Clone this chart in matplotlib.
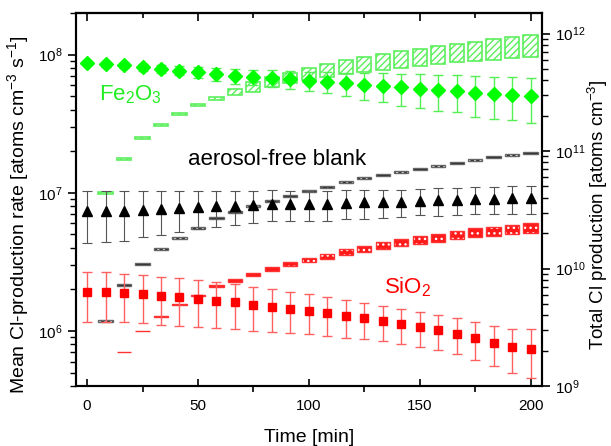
import matplotlib
matplotlib.use("Agg")
import matplotlib.pyplot as plt
from matplotlib.patches import Rectangle
from matplotlib.ticker import LogLocator, NullFormatter, MultipleLocator

plt.rcParams['font.family'] = ['Liberation Sans', 'DejaVu Sans']
plt.rcParams['mathtext.fontset'] = 'custom'
plt.rcParams['mathtext.rm'] = 'Liberation Sans'
plt.rcParams['mathtext.default'] = 'regular'

# time of each measurement [min]
t = [0, 8.33, 16.67, 25, 33.33, 41.67, 50, 58.33, 66.67, 75, 83.33, 91.67, 100,
     108.33, 116.67, 125, 133.33, 141.67, 150, 158.33, 166.67, 175, 183.33, 191.67, 200]
t_tot = t[1:]

# mean Cl production rate [atoms cm-3 s-1] with error
fe_rate = [8.70e7, 8.51e7, 8.34e7, 8.10e7, 7.87e7, 7.67e7, 7.49e7, 7.21e7, 6.98e7, 6.89e7,
           6.78e7, 6.63e7, 6.49e7, 6.35e7, 6.21e7, 6.01e7, 5.91e7, 5.78e7, 5.68e7, 5.53e7,
           5.47e7, 5.26e7, 5.18e7, 5.12e7, 5.01e7]
fe_err = [0.30e7, 0.35e7, 0.40e7, 0.45e7, 0.50e7, 0.60e7, 0.70e7, 0.80e7, 0.85e7, 0.90e7,
          0.95e7, 1.00e7, 1.05e7, 1.10e7, 1.20e7, 1.30e7, 1.40e7, 1.50e7, 1.55e7, 1.60e7,
          1.65e7, 1.70e7, 1.75e7, 1.78e7, 1.80e7]

bk_rate = [7.33e6, 7.33e6, 7.40e6, 7.54e6, 7.63e6, 7.76e6, 7.83e6, 7.96e6, 8.06e6, 8.20e6,
           8.33e6, 8.30e6, 8.25e6, 8.33e6, 8.43e6, 8.51e6, 8.51e6, 8.61e6, 8.76e6, 8.80e6,
           8.90e6, 9.01e6, 9.01e6, 9.10e6, 9.16e6]
bk_err = [3.00e6, 2.95e6, 2.90e6, 2.75e6, 2.65e6, 2.55e6, 2.40e6, 2.35e6, 2.25e6, 2.15e6,
          2.10e6, 2.05e6, 2.00e6, 2.05e6, 2.00e6, 2.00e6, 1.95e6, 1.95e6, 1.90e6, 1.95e6,
          1.95e6, 2.00e6, 2.00e6, 2.05e6, 2.10e6]

si_rate = [1.911e6, 1.911e6, 1.879e6, 1.839e6, 1.788e6, 1.750e6, 1.692e6, 1.645e6, 1.610e6,
           1.539e6, 1.489e6, 1.441e6, 1.394e6, 1.342e6, 1.283e6, 1.235e6, 1.181e6, 1.123e6,
           1.069e6, 1.017e6, 9.58e5, 8.90e5, 8.19e5, 7.67e5, 7.47e5]
si_err = [0.75e6, 0.74e6, 0.72e6, 0.70e6, 0.68e6, 0.66e6, 0.63e6, 0.60e6, 0.57e6, 0.54e6,
          0.51e6, 0.48e6, 0.445e6, 0.42e6, 0.40e6, 0.365e6, 0.34e6, 0.32e6, 0.30e6, 0.29e6,
          0.28e6, 0.27e6, 0.265e6, 0.27e6, 0.29e6]

# total Cl production [atoms cm-3], lower / upper bound
fe_lo = [4.32e10, 8.45e10, 1.26e11, 1.64e11, 2.04e11, 2.40e11, 2.72e11, 3.00e11, 3.21e11,
         3.50e11, 3.79e11, 4.04e11, 4.26e11, 4.52e11, 4.70e11, 4.92e11, 5.14e11, 5.35e11,
         5.53e11, 5.71e11, 5.83e11, 5.98e11, 6.22e11, 6.38e11]
fe_hi = [4.49e10, 8.79e10, 1.31e11, 1.71e11, 2.12e11, 2.53e11, 2.90e11, 3.37e11, 3.86e11,
         4.26e11, 4.66e11, 5.08e11, 5.50e11, 5.94e11, 6.30e11, 6.72e11, 7.09e11, 7.46e11,
         7.86e11, 8.18e11, 8.55e11, 8.96e11, 9.32e11, 9.69e11]

bk_lo = [3.52e9, 7.09e9, 1.072e10, 1.438e10, 1.80e10, 2.18e10, 2.63e10, 2.95e10, 3.32e10,
         3.71e10, 4.10e10, 4.50e10, 4.88e10, 5.31e10, 5.74e10, 6.14e10, 6.51e10, 6.95e10,
         7.37e10, 7.76e10, 8.23e10, 8.66e10, 9.08e10, 9.50e10]
bk_hi = [3.66e9, 7.37e9, 1.116e10, 1.496e10, 1.87e10, 2.27e10, 2.73e10, 3.07e10, 3.46e10,
         3.87e10, 4.26e10, 4.68e10, 5.08e10, 5.53e10, 5.98e10, 6.40e10, 6.77e10, 7.23e10,
         7.67e10, 8.08e10, 8.57e10, 9.02e10, 9.46e10, 9.88e10]

si_lo = [8.9e8, 1.93e9, 2.92e9, 3.88e9, 4.87e9, 5.82e9, 6.94e9, 7.68e9, 8.64e9, 9.54e9,
         1.048e10, 1.131e10, 1.212e10, 1.305e10, 1.386e10, 1.474e10, 1.547e10, 1.618e10,
         1.689e10, 1.770e10, 1.849e10, 1.900e10, 1.956e10, 2.015e10]
si_hi = [9.1e8, 1.96e9, 2.96e9, 3.96e9, 4.98e9, 6.00e9, 7.24e9, 8.08e9, 9.19e9, 1.023e10,
         1.133e10, 1.237e10, 1.341e10, 1.456e10, 1.565e10, 1.677e10, 1.775e10, 1.877e10,
         1.976e10, 2.087e10, 2.196e10, 2.275e10, 2.361e10, 2.450e10]

GREEN = '#00ff00'
LGREEN = '#5cef5c'
RED = '#ff0000'

fig = plt.figure(figsize=(6.11, 4.46), dpi=100)
ax = fig.add_axes([0.1244, 0.1345, 0.762, 0.8364])
ax2 = ax.twinx()

# boxes for total production on the right axis
w = 6.4
for x, lo, hi in zip(t_tot, fe_lo, fe_hi):
    ax2.add_patch(Rectangle((x - w / 2, lo), w, hi - lo, facecolor='white',
                            edgecolor=LGREEN, hatch='/////', lw=1.2))
for x, lo, hi in zip(t_tot, bk_lo, bk_hi):
    ax2.add_patch(Rectangle((x - w / 2, lo), w, hi - lo, facecolor='#1a1a1a',
                            edgecolor='white', hatch='...', lw=0))
    ax2.add_patch(Rectangle((x - w / 2, lo), w, hi - lo, facecolor='none',
                            edgecolor='#666666', lw=1.0))
for x, lo, hi in zip(t_tot, si_lo, si_hi):
    ax2.add_patch(Rectangle((x - w / 2, lo), w, hi - lo, facecolor='#ff1a1a',
                            edgecolor='white', hatch='...', lw=0))
    ax2.add_patch(Rectangle((x - w / 2, lo), w, hi - lo, facecolor='none',
                            edgecolor='#ff3333', lw=1.0))

# mean production rates on the left axis
ax.errorbar(t, fe_rate, yerr=fe_err, fmt='D', color=GREEN, ms=7,
            ecolor='#55ee55', elinewidth=1, capsize=3.5, capthick=1)
ax.errorbar(t, bk_rate, yerr=bk_err, fmt='^', color='black', ms=7.5,
            ecolor='#555555', elinewidth=0.8, capsize=3.5, capthick=0.8)
ax.errorbar(t, si_rate, yerr=si_err, fmt='s', color=RED, ms=6,
            ecolor='#ff6060', elinewidth=1, capsize=3.5, capthick=1)

ax.set_zorder(ax2.get_zorder() + 1)
ax.patch.set_visible(False)

ax.set_xlim(-5, 205)
ax.set_yscale('log')
ax.set_ylim(4e5, 2e8)
ax2.set_yscale('log')
ax2.set_ylim(1e9, 1.5e12)

ax.xaxis.set_major_locator(MultipleLocator(50))
ax.xaxis.set_minor_locator(MultipleLocator(25))
ax.tick_params(axis='x', which='major', direction='in', length=5, width=1.2,
               labelsize=11, pad=9, top=False)
ax.tick_params(axis='x', which='minor', direction='out', length=4, width=1.2, top=False)
ax.tick_params(axis='y', which='major', direction='out', length=6, width=1.2, labelsize=11)
ax.tick_params(axis='y', which='minor', direction='out', length=4, width=1.0)
ax2.tick_params(axis='y', which='major', direction='out', length=6, width=1.2, labelsize=11)
ax2.tick_params(axis='y', which='minor', direction='out', length=4, width=1.0)
for a in (ax, ax2):
    a.yaxis.set_major_locator(LogLocator(base=10))
    a.yaxis.set_minor_locator(LogLocator(base=10, subs=range(2, 10)))
    a.yaxis.set_minor_formatter(NullFormatter())
    for s in a.spines.values():
        s.set_linewidth(1.5)

top = ax.secondary_xaxis('top')
top.xaxis.set_major_locator(MultipleLocator(50))
top.xaxis.set_minor_locator(MultipleLocator(25))
top.tick_params(which='major', direction='in', length=6, width=1.2, labeltop=False)
top.tick_params(which='minor', direction='in', length=3.5, width=1.2)
top.spines['top'].set_linewidth(1.5)

ax.set_xlabel('Time [min]', fontsize=14, labelpad=12)
ax.set_ylabel('Mean Cl-production rate [atoms cm$^{-3}$ s$^{-1}$]', fontsize=14)
ax2.set_ylabel('Total Cl production [atoms cm$^{-3}$]', fontsize=13.5)
ax.yaxis.set_label_coords(-0.097, 0.46)
ax2.yaxis.set_label_coords(1.096, 0.46)

ax.text(5.4, 4.7e7, 'Fe$_2$O$_3$', color='#22ee22', fontsize=16)
ax.text(45.5, 1.59e7, 'aerosol-free blank', color='black', fontsize=16)
ax.text(134, 1.87e6, 'SiO$_2$', color=RED, fontsize=16)

fig.savefig('out.png', dpi=100)
